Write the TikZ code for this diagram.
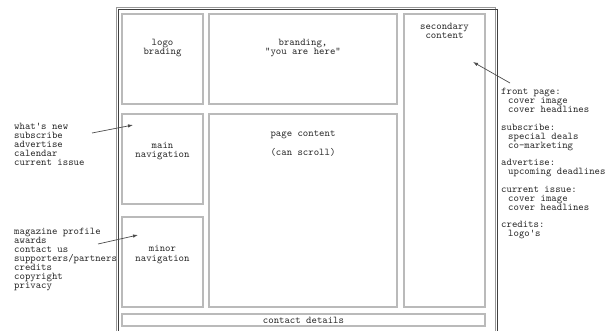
\documentclass[tikz,border=0pt]{standalone}
\usepackage{fontspec}
\newfontfamily\monofont{Latin Modern Mono}
\usetikzlibrary{arrows.meta, positioning}

\begin{document}
\begin{tikzpicture}[
    x=1pt, y=-1pt,
    panel/.style = {draw=black!27, line width=1.3pt, rectangle, inner sep=0pt, outer sep=0pt},
    caption/.style = {font=\monofont\fontsize{10.3}{9.5}\selectfont, align=center, inner sep=0pt, text=black!85},
    notes/.style = {font=\monofont\fontsize{10.3}{9}\selectfont, align=left, inner sep=0pt, anchor=north west, text=black!85},
    pointer/.style = {-{Latex[length=5pt, width=3.5pt]}, draw=black!70, line width=0.7pt},
    node distance=25pt
]
\useasboundingbox (0,0) rectangle (606,331);

% page frame, open at the bottom
\draw[black!40, line width=1pt] (116,331) |- (495,8) -- (495,331);
\draw[black!75, line width=1pt] (118,331) |- (497,9.5) -- (497,331);

\node(Logo)[panel, minimum width=81pt, minimum height=90pt] at (162.5,59) {};
\node(LogoText)[caption, below=25pt of Logo.north] {logo\\brading};

\node(Branding)[panel, minimum width=188pt, minimum height=90pt] at (303,59) {};
\node(BrandingText)[caption, below=25pt of Branding.north] {branding,\\"you are here"};

\node(Secondary)[panel, minimum width=81pt, minimum height=293pt] at (444.5,160.5) {};
\node(SecondaryText)[caption, below=9pt of Secondary.north] {secondary\\content};

\node(MainNav)[panel, minimum width=81pt, minimum height=90pt] at (162.5,159) {};
\node(MainNavText)[caption, below=28pt of MainNav.north] {main\\navigation};

\node(Page)[panel, minimum width=188pt, minimum height=193pt] at (303,210.5) {};
\node(PageText)[caption, below=17pt of Page.north] {page content\\[8pt](can scroll)};

\node(MinorNav)[panel, minimum width=81pt, minimum height=90pt] at (162.5,262) {};
\node(MinorNavText)[caption, below=28.5pt of MinorNav.north] {minor\\navigation};

\node(Contact)[panel, minimum width=363pt, minimum height=12pt] at (303.5,320) {};
\node(ContactText)[caption] at (Contact) {contact details};

% notes round the page
\node(WhatsNew)[notes] at (14,123) {what's new\\subscribe\\advertise\\calendar\\current issue};
\coordinate (whatsTail) at (92,133);
\coordinate (mainTip) at (133,125);
\draw[pointer] (whatsTail) -- (mainTip);

\node(Profile)[notes] at (14,228) {magazine profile\\awards\\contact us\\supporters/partners\\credits\\copyright\\privacy};
\coordinate (profileTail) at (98,244);
\coordinate (minorTip) at (138,235);
\draw[pointer] (profileTail) -- (minorTip);

\node(FrontPage)[notes] at (501,88) {front page:\\
    \hspace*{7pt}cover image\\
    \hspace*{7pt}cover headlines\\[8.5pt]
    subscribe:\\
    \hspace*{7pt}special deals\\
    \hspace*{7pt}co-marketing\\[8.5pt]
    advertise:\\
    \hspace*{7pt}upcoming deadlines\\[8.5pt]
    current issue:\\
    \hspace*{7pt}cover image\\
    \hspace*{7pt}cover headlines\\[8.5pt]
    credits:\\
    \hspace*{7pt}logo's};
\coordinate (frontTail) at (510,83);
\coordinate (secondaryTip) at (473,62);
\draw[pointer] (frontTail) -- (secondaryTip);

\end{tikzpicture}
\end{document}
